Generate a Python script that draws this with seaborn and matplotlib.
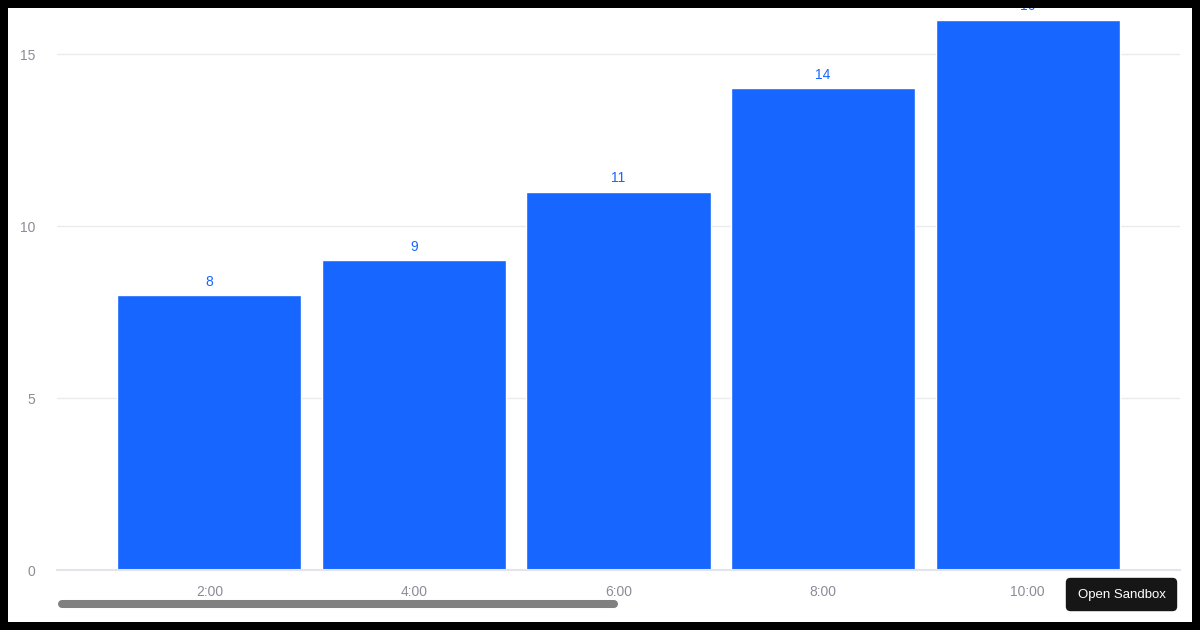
import matplotlib
matplotlib.use("Agg")
import matplotlib.pyplot as plt
from matplotlib.patches import Rectangle, FancyBboxPatch
from matplotlib.lines import Line2D
import pandas as pd
import seaborn as sns

# values
hours = ["2:00", "4:00", "6:00", "8:00", "10:00"]
counts = [8, 9, 11, 14, 16]
y_ticks = [0, 5, 10, 15]

BAR = "#1766ff"
TICK = "#8c8c99"
W, H = 1200, 630

sns.set_style("white")
plt.rcParams["font.family"] = ["Liberation Sans", "DejaVu Sans"]

df = pd.DataFrame({"hour": hours, "count": counts})

fig = plt.figure(figsize=(12, 6.3), dpi=100)
fig.patch.set_facecolor("black")
# white page inside the black frame
fig.add_artist(Rectangle((8 / W, 8 / H), (W - 16) / W, (H - 16) / H,
                         transform=fig.transFigure, facecolor="white",
                         edgecolor="none", zorder=-10))

ax = fig.add_axes([57 / W, 60 / H, (1180 - 57) / W, 550.4 / H])
ax.set_facecolor("none")
sns.barplot(data=df, x="hour", y="count", color=BAR, saturation=1,
            width=0.9, ax=ax)
ax.set_xlim(-0.745, len(hours) - 1 + 0.745)
ax.set_ylim(0, 16)
ax.set_yticks(y_ticks)
ax.yaxis.grid(True, color="#ebebeb", linewidth=1)
ax.set_axisbelow(True)
for s in ["top", "right", "left"]:
    ax.spines[s].set_visible(False)
ax.spines["bottom"].set_color("#e4e4ec")
ax.spines["bottom"].set_linewidth(1.5)
ax.tick_params(axis="y", length=0, pad=15.5, labelsize=10, labelcolor=TICK)
ax.tick_params(axis="x", length=3, width=0.6, color="#dcdce4", pad=7.5,
               labelsize=10, labelcolor=TICK)
ax.set_xlabel("")
ax.set_ylabel("")

for c in ax.containers:
    labels = ax.bar_label(c, padding=4.5, color=BAR, fontsize=10)
    for t in labels:
        t.set_clip_on(False)

# scrollbar thumb
fig.add_artist(Line2D([62 / W, 614 / W], [(H - 604) / H] * 2,
                      transform=fig.transFigure, color="#808080",
                      linewidth=5.8, solid_capstyle="round"))
# "Open Sandbox" button
fig.add_artist(FancyBboxPatch((1070 / W, (H - 607) / H), 103 / W, 25 / H,
                              boxstyle="round,pad=0.0035,rounding_size=0.004",
                              transform=fig.transFigure, facecolor="#161616",
                              edgecolor="none", mutation_aspect=W / H))
fig.text(1121.5 / W, (H - 595) / H, "Open Sandbox", color="white",
         fontsize=9.5, ha="center", va="center")

# black frame drawn over the clipped top label
for rect in [(0, 0, W, 8), (0, H - 8, W, 8), (0, 0, 8, H), (W - 8, 0, 8, H)]:
    x, y, w, h = rect
    fig.add_artist(Rectangle((x / W, y / H), w / W, h / H,
                             transform=fig.transFigure, facecolor="black",
                             edgecolor="none", zorder=100))

fig.savefig("out.png", dpi=100, facecolor=fig.get_facecolor())
